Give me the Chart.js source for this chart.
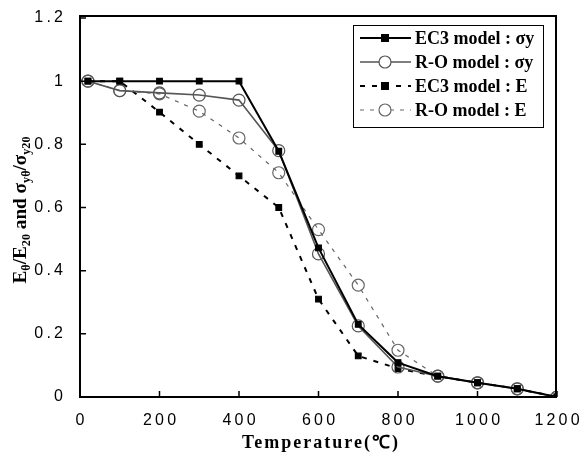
<!DOCTYPE html>
<html>
<head>
<meta charset="utf-8">
<script src="https://cdn.jsdelivr.net/npm/chart.js@4"></script>
<style>
  body { margin: 0; background: #fff; }
  #wrap { width: 581px; height: 457px; }
</style>
</head>
<body>
<div id="wrap"><canvas id="myChart" width="581" height="457"></canvas></div>
<script>
// temperatures (℃)
const temps = [20, 100, 200, 300, 400, 500, 600, 700, 800, 900, 1000, 1100, 1200];
// ratio values
const ec3Sy = [1, 1, 1, 1, 1, 0.778, 0.472, 0.23, 0.109, 0.066, 0.045, 0.026, 0];
const roSy  = [1, 0.97, 0.963, 0.956, 0.94, 0.78, 0.453, 0.225, 0.095, 0.066, 0.045, 0.026, 0];
const ec3E  = [1, 1, 0.902, 0.80, 0.70, 0.60, 0.31, 0.13, 0.09, 0.066, 0.045, 0.026, 0];
const roE   = [1, 0.97, 0.96, 0.905, 0.82, 0.71, 0.53, 0.354, 0.148, 0.066, 0.045, 0.026, 0];
const seriesNames = ["EC3 model : σy", "R-O model : σy", "EC3 model : E", "R-O model : E"];
const xTicks = [0, 200, 400, 600, 800, 1000, 1200];
const yTicks = [0, 0.2, 0.4, 0.6, 0.8, 1, 1.2];

function pts(arr) {
    return temps.map(function (t, i) { return { x: t, y: arr[i] }; });
}

// digits a bit apart, like the original
function spaced(v) {
    return String(Math.round(v * 10) / 10).split('').join('\u2009');
}

const styles = [
    { color: '#000', width: 2, dash: [], point: 'rect', radius: 4, fill: '#000' },
    { color: '#555', width: 1.6, dash: [], point: 'circle', radius: 6, fill: 'rgba(0,0,0,0)' },
    { color: '#000', width: 2, dash: [5, 7], point: 'rect', radius: 4, fill: '#000' },
    { color: '#666', width: 1.2, dash: [4, 6], point: 'circle', radius: 6, fill: 'rgba(0,0,0,0)' }
];
const allData = [ec3Sy, roSy, ec3E, roE];

const datasets = allData.map(function (arr, k) {
    const s = styles[k];
    return {
        label: seriesNames[k],
        data: pts(arr),
        borderColor: s.color,
        borderWidth: s.width,
        borderDash: s.dash,
        pointStyle: s.point,
        pointRadius: s.radius,
        pointBackgroundColor: s.fill,
        pointBorderColor: s.color,
        pointBorderWidth: 1.2,
        tension: 0,
        fill: false
    };
});

// frame, inward ticks, axis titles and legend
const decor = {
    id: 'decor',
    afterDraw: function (chart) {
        const c = chart.ctx;
        const a = chart.chartArea;
        const xs = chart.scales.x, ys = chart.scales.y;
        c.save();
        c.strokeStyle = '#000';
        c.lineWidth = 2;
        c.strokeRect(a.left, a.top - 2, a.right - a.left - 1, a.bottom - a.top + 2);
        c.lineWidth = 1.5;
        c.beginPath();
        yTicks.forEach(function (v) {
            const p = ys.getPixelForValue(v);
            c.moveTo(a.left, p); c.lineTo(a.left + 6, p);
        });
        xTicks.forEach(function (v) {
            const p = xs.getPixelForValue(v);
            c.moveTo(p, a.bottom); c.lineTo(p, a.bottom - 6);
        });
        c.stroke();

        // x title
        c.fillStyle = '#000';
        c.font = 'bold 18px "Liberation Serif"';
        c.letterSpacing = '2px';
        c.textAlign = 'center';
        c.textBaseline = 'middle';
        c.fillText('Temperature(℃)', 321, 443);
        c.letterSpacing = '0px';

        // y title with subscripts (condensed)
        const parts = [
            ['E', 0], ['θ', 1], ['/E', 0], ['20', 1], [' and σ', 0], ['yθ', 1], ['/σ', 0], ['y20', 1]
        ];
        const big = 'bold 19px "Liberation Serif"', small = 'bold 12px "Liberation Serif"';
        let total = 0;
        parts.forEach(function (p) { c.font = p[1] ? small : big; total += c.measureText(p[0]).width; });
        c.translate(20, 210);
        c.rotate(-Math.PI / 2);
        c.scale(147 / total, 1);
        c.textAlign = 'left';
        c.textBaseline = 'alphabetic';
        let x = -total / 2;
        parts.forEach(function (p) {
            c.font = p[1] ? small : big;
            c.fillText(p[0], x, p[1] ? 10 : 6);
            x += c.measureText(p[0]).width;
        });
        c.setTransform(1, 0, 0, 1, 0, 0);

        // legend
        const bx = 353, by = 25, bw = 190, bh = 102;
        c.fillStyle = '#fff';
        c.fillRect(bx, by, bw, bh);
        c.strokeStyle = '#000';
        c.lineWidth = 1;
        c.strokeRect(bx + 0.5, by + 0.5, bw, bh);
        seriesNames.forEach(function (name, k) {
            const s = styles[k];
            const yy = by + 13 + k * 24;
            c.strokeStyle = s.color;
            c.lineWidth = s.width;
            c.setLineDash(s.dash);
            c.beginPath(); c.moveTo(bx + 7, yy); c.lineTo(bx + 58, yy); c.stroke();
            c.setLineDash([]);
            c.lineWidth = 1.2;
            if (s.point === 'rect') {
                c.fillStyle = '#000';
                c.fillRect(bx + 32 - 4, yy - 4, 8, 8);
            } else {
                c.fillStyle = '#fff';
                c.beginPath(); c.arc(bx + 32, yy, 6, 0, Math.PI * 2); c.fill(); c.stroke();
            }
            c.fillStyle = '#000';
            c.font = 'bold 18px "Liberation Serif"';
            c.textAlign = 'left';
            c.textBaseline = 'middle';
            c.fillText(name, bx + 62, yy + 1);
        });
        c.restore();
    }
};

const ctx = document.getElementById('myChart').getContext('2d');
const myChart = new Chart(ctx, {
    type: 'line',
    data: { datasets: datasets },
    options: {
        responsive: false,
        animation: false,
        layout: { padding: { left: 0, right: 24, top: 18, bottom: 0 } },
        plugins: { legend: { display: false }, tooltip: { enabled: false } },
        scales: {
            x: {
                type: 'linear',
                min: 0, max: 1200,
                afterBuildTicks: function (scale) { scale.ticks = xTicks.map(function (v) { return { value: v }; }); },
                afterFit: function (scale) {
                    scale.height = 60;
                    scale.paddingLeft = 0; scale.paddingRight = 0;
                },
                grid: { display: false, drawTicks: false },
                border: { display: false },
                ticks: {
                    color: '#000', padding: 14,
                    font: { family: '"Liberation Sans"', size: 16 },
                    maxRotation: 0,
                    callback: spaced
                }
            },
            y: {
                min: 0, max: 1.2,
                afterBuildTicks: function (scale) { scale.ticks = yTicks.map(function (v) { return { value: v }; }); },
                afterFit: function (scale) {
                    scale.width = 80;
                    scale.paddingTop = 0; scale.paddingBottom = 0;
                },
                grid: { display: false, drawTicks: false },
                border: { display: false },
                ticks: {
                    color: '#000', padding: 17,
                    font: { family: '"Liberation Sans"', size: 16 },
                    callback: spaced
                }
            }
        }
    },
    plugins: [decor]
});
</script>
</body>
</html>
